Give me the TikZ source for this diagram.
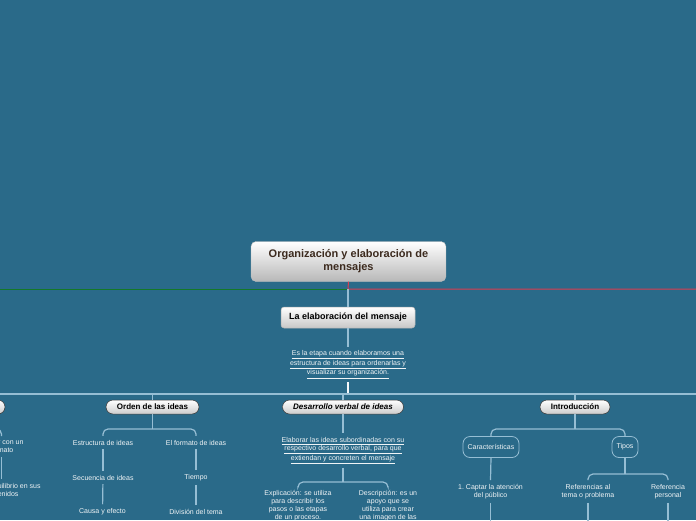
\documentclass[tikz,border=0pt]{standalone}
\usepackage{fontspec}
\setmainfont{Liberation Sans}
\definecolor{bg}{RGB}{42,106,137}
\definecolor{connc}{RGB}{150,190,212}
\definecolor{titletext}{RGB}{60,42,30}
\definecolor{txt}{RGB}{240,244,246}
\definecolor{leftgreen}{RGB}{20,120,40}
\definecolor{rightred}{RGB}{220,60,80}
\begin{document}
\begin{tikzpicture}[x=1pt,y=-1pt,
  small/.style={font=\fontsize{7}{8}\selectfont, text=txt, align=center, inner sep=0pt, outer sep=4pt},
  pill/.style={rectangle, rounded corners=7pt, draw=black!80, line width=0.5pt, top color=white, bottom color=black!20,
    font=\fontsize{8}{9}\selectfont\bfseries, text=black, inner sep=0pt, minimum height=14pt},
  titlebox/.style={rectangle, rounded corners=5pt, draw=black!25, line width=0.4pt, top color=white, bottom color=black!28,
    font=\fontsize{11}{13}\selectfont\bfseries, text=titletext, align=center, minimum width=195pt, minimum height=40pt, inner sep=0pt},
  subbox/.style={rectangle, rounded corners=3pt, draw=black!30, line width=0.5pt, top color=white, bottom color=black!22,
    font=\fontsize{9}{10}\selectfont\bfseries, text=black, minimum width=134pt, minimum height=21pt, inner sep=0pt},
  outl/.style={rectangle, rounded corners=7pt, draw=connc, line width=0.8pt, font=\fontsize{7}{8}\selectfont, text=txt,
    inner sep=0pt, minimum height=21pt},
  conn/.style={draw=connc, line width=1.2pt},
  brk/.style={conn, rounded corners=5pt}
]
\useasboundingbox (0,0) rectangle (696,520);
\fill[bg] (0,0) rectangle (696,520);
\clip (0,0) rectangle (696,520);

% root
\node[titlebox] (root) at (348.5,261.5) {Organización y elaboración de\\mensajes};
\coordinate (j) at (348,289);
\coordinate (gL) at (0,289);
\coordinate (rR) at (696,289);
\draw[rightred, line width=1pt] (root.south) -- (j) -- (rR);
\draw[leftgreen, line width=1pt] (j) -- (gL);

\node[subbox] (elab) at (348,317.5) {La elaboración del mensaje};
\draw[conn] (j) -- (elab.north);

\node[small] (d0) at (348,364.5) {\underline{Es la etapa cuando elaboramos una}\\\underline{estructura de ideas para ordenarlas y}\\\underline{visualizar su organización.}};
\draw[conn] (elab.south) -- (d0.north);

\coordinate (hub) at (348,394);
\coordinate (hL) at (0,394);
\coordinate (hR) at (696,394);
\draw[conn, draw=white!90!connc] (d0.south) -- (hub);
\draw[conn] (hL) -- (hR);

% level 2
\node[pill, minimum width=80pt] (p0) at (-35,407) {};
\node[pill, minimum width=93pt] (p1) at (152.5,407) {Orden de las ideas};
\node[pill, minimum width=121pt, font=\fontsize{8}{9}\selectfont\bfseries\itshape] (p2) at (343,407) {Desarrollo verbal de ideas};
\node[pill, minimum width=70pt] (p3) at (575,407) {Introducción};
\draw[conn] (p1.north |- hub) -- (p1.north);
\draw[conn] (p2.north |- hub) -- (p2.north);
\draw[conn] (p3.north |- hub) -- (p3.north);

% left (clipped) branch
\node[small] (l1) at (1.5,446.5) {Contar con un\\formato};
\node[small] (l2) at (1.5,489.5) {Guardar equilibrio en sus\\contenidos};
\coordinate (lb) at (-40,429);
\draw[conn] (p0.south) -- (lb);
\draw[brk] (lb) -| (l1.north);
\draw[conn] (l1) -- (l2);

% Orden de las ideas
\node[small] (o1) at (103,442.5) {Estructura de ideas};
\node[small] (o2) at (196,442.5) {El formato de ideas};
\node[small] (o3) at (103,477.5) {Secuencia de ideas};
\node[small] (o4) at (196,477.5) {Tiempo};
\node[small] (o5) at (102.5,511.5) {Causa y efecto};
\node[small] (o6) at (196,511.5) {División del tema};
\coordinate (ob) at (152.5,429);
\draw[conn] (p1.south) -- (ob);
\draw[brk] (o1.north) |- (ob) -| (o2.north);
\draw[conn] (o1) -- (o3);
\draw[conn] (o3) -- (o5);
\draw[conn] (o2) -- (o4);
\draw[conn] (o4) -- (o6);

% Desarrollo verbal
\node[small] (d1) at (343,450.5) {\underline{Elaborar las ideas subordinadas con su}\\\underline{respectivo desarrollo verbal, para que}\\\underline{extiendan y concreten el mensaje}};
\draw[conn] (p2.south) -- (d1.north);
\node[small] (d2) at (298,505.5) {Explicación: se utiliza\\para describir los\\pasos o las etapas\\de un proceso.};
\node[small] (d3) at (388,505.5) {Descripción: es un\\apoyo que se\\utiliza para crear\\una imagen de las};
\coordinate (db) at (343,482);
\draw[conn] (d1.south) -- (db);
\draw[brk] (d2.north) |- (db) -| (d3.north);

% Introducción
\node[outl, minimum width=56pt] (c1) at (491,447) {Características};
\node[outl, minimum width=26pt] (c2) at (625,447) {Tipos};
\coordinate (ib) at (575,429);
\draw[conn] (p3.south) -- (ib);
\draw[brk] (c1.north) |- (ib) -| (c2.north);

\node[small] (i1) at (490.5,491.5) {1.\ Captar la atención\\del público};
\draw[conn] (c1.south) -- (i1.north);
\coordinate (i1e) at (490.5,530);
\draw[conn] (i1.south) -- (i1e);

\node[small] (t1) at (588,491.5) {Referencias al\\tema o problema};
\node[small] (t2) at (668,491.5) {Referencia\\personal};
\coordinate (tb) at (625,474);
\draw[conn] (c2.south) -- (tb);
\draw[brk] (t1.north) |- (tb) -| (t2.north);
\coordinate (t1e) at (588,530);
\coordinate (t2e) at (668,530);
\draw[conn] (t1.south) -- (t1e);
\draw[conn] (t2.south) -- (t2e);
\end{tikzpicture}
\end{document}
